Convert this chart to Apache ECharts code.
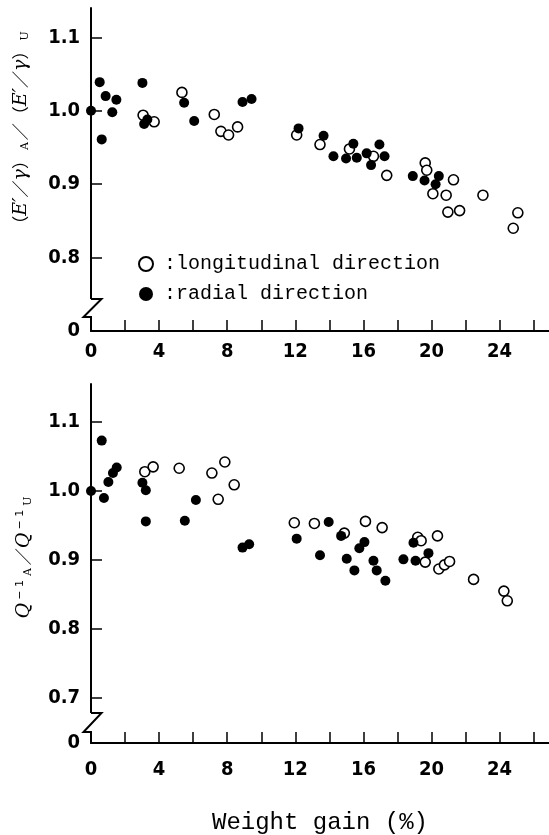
<!DOCTYPE html>
<html>
<head>
<meta charset="utf-8">
<script src="https://cdn.jsdelivr.net/npm/echarts@6/dist/echarts.min.js"></script>
<style>
  html, body { margin: 0; padding: 0; background: #fff; }
  #chart { width: 549px; height: 835px; }
</style>
</head>
<body>
<div id="chart"></div>
<script>
// weight gain (%) / ratio pairs
const topLongitudinal = [
  [3.06, 0.994], [3.71, 0.985], [5.34, 1.025], [7.24, 0.995], [7.63, 0.972], [8.08, 0.967], [8.61, 0.978],
  [12.08, 0.967], [13.45, 0.954], [15.18, 0.948], [16.59, 0.938], [17.37, 0.912], [19.63, 0.929],
  [19.72, 0.919], [20.08, 0.887], [20.86, 0.885], [20.96, 0.862], [21.29, 0.906], [21.65, 0.864],
  [23.02, 0.885], [24.8, 0.840], [25.07, 0.861]
]
const topRadial = [
  [0, 1.000], [0.51, 1.039], [0.63, 0.961], [0.86, 1.020], [1.25, 0.998], [1.49, 1.015],
  [3.02, 1.038], [3.12, 0.982], [3.31, 0.988], [5.47, 1.011], [6.06, 0.986], [8.9, 1.012], [9.43, 1.016],
  [12.19, 0.976], [13.66, 0.966], [14.24, 0.938], [14.98, 0.935], [15.41, 0.955], [15.61, 0.936],
  [16.19, 0.942], [16.45, 0.926], [16.94, 0.954], [17.24, 0.938], [18.9, 0.911], [19.59, 0.905],
  [20.24, 0.900], [20.43, 0.911]
]
const bottomLongitudinal = [
  [3.16, 1.028], [3.65, 1.035], [5.18, 1.033], [7.1, 1.026], [7.47, 0.988], [7.86, 1.042], [8.41, 1.009],
  [11.94, 0.954], [13.12, 0.953], [14.88, 0.939], [16.12, 0.956], [17.1, 0.947], [19.19, 0.933],
  [19.39, 0.928], [19.63, 0.897], [20.35, 0.935], [20.43, 0.887], [20.76, 0.893], [21.06, 0.898],
  [22.47, 0.872], [24.25, 0.855], [24.45, 0.841]
]
const bottomRadial = [
  [0, 1.000], [0.63, 1.073], [0.76, 0.990], [1.02, 1.013], [1.29, 1.026], [1.51, 1.034],
  [3.02, 1.012], [3.22, 1.001], [3.22, 0.956], [5.51, 0.957], [6.16, 0.987], [8.9, 0.918], [9.29, 0.923],
  [12.08, 0.931], [13.45, 0.907], [13.96, 0.955], [14.69, 0.935], [15.02, 0.902], [15.47, 0.885],
  [15.76, 0.917], [16.06, 0.926], [16.59, 0.899], [16.78, 0.885], [17.29, 0.870], [18.35, 0.901],
  [18.94, 0.925], [19.06, 0.899], [19.82, 0.910]
]

const xTicks = [2, 4, 6, 8, 10, 12, 14, 16, 18, 20, 22, 24, 26]
const xLabels = [0, 4, 8, 12, 16, 20, 24]
// lowest value of each y axis is drawn as "0" below the break
const topYRange = [0.7, 1.14]
const topYTicks = [0.8, 0.9, 1.0, 1.1]
const bottomYRange = [0.635, 1.155]
const bottomYTicks = [0.7, 0.8, 0.9, 1.0, 1.1]

const numFont = "'Liberation Sans Narrow', 'DejaVu Sans Condensed', 'Liberation Sans', sans-serif"
const monoFont = "'Liberation Mono', 'DejaVu Sans Mono', monospace"

const chart = echarts.init(document.getElementById('chart'))

function xAxis(grid, extra) {
  return Object.assign({
    gridIndex: grid,
    type: 'value',
    min: 0,
    max: 26.9,
    splitLine: { show: false },
    axisLine: { onZero: false, lineStyle: { color: '#000', width: 2 } },
    axisTick: { inside: true, length: 11, customValues: xTicks, lineStyle: { color: '#000', width: 1.5 } },
    axisLabel: {
      customValues: xLabels, margin: 11,
      color: '#000', fontFamily: numFont, fontWeight: 'bold', fontSize: 20
    }
  }, extra)
}

function yAxis(grid, range, ticks) {
  return {
    gridIndex: grid,
    type: 'value',
    min: range[0],
    max: range[1],
    splitLine: { show: false },
    axisLine: { onZero: false, lineStyle: { color: '#000', width: 2 } },
    axisTick: { inside: true, length: 11, customValues: ticks, lineStyle: { color: '#000', width: 1.5 } },
    axisLabel: {
      customValues: [range[0]].concat(ticks), margin: 11,
      color: '#000', fontFamily: numFont, fontWeight: 'bold', fontSize: 20,
      formatter: v => (v === range[0] ? '0' : v.toFixed(1))
    }
  }
}

const openStyle = { color: '#fff', borderColor: '#000', borderWidth: 1.6, opacity: 1 }
const filledStyle = { color: '#000', opacity: 1 }

function series(name, idx, data, style) {
  return {
    name, type: 'scatter', xAxisIndex: idx, yAxisIndex: idx,
    data, symbolSize: 10, itemStyle: style, silent: true
  }
}

// axis break: blank the axis line and draw the zigzag
function axisBreak(y0, y1, y2) {
  return [
    { type: 'rect', z: 100, shape: { x: 85, y: y0, width: 12, height: y2 - y0 - 1 }, style: { fill: '#fff' } },
    {
      type: 'polyline', z: 101,
      shape: { points: [[91, y0], [101.5, y0], [83.5, y1], [91, y1], [91, y2]] },
      style: { stroke: '#000', lineWidth: 2, fill: null }
    }
  ]
}

const option = {
  animation: false,
  backgroundColor: '#fff',
  grid: [
    { left: 91, right: 0, top: 8, height: 323, containLabel: false, outerBoundsMode: 'none' },
    { left: 91, right: 0, top: 384, height: 359, containLabel: false, outerBoundsMode: 'none' }
  ],
  xAxis: [
    xAxis(0),
    xAxis(1, {
      name: 'Weight gain (%)', nameLocation: 'middle', nameGap: 68,
      nameTextStyle: { color: '#000', fontFamily: monoFont, fontSize: 24 },
      axisLabel: {
        customValues: xLabels, margin: 17,
        color: '#000', fontFamily: numFont, fontWeight: 'bold', fontSize: 20
      }
    })
  ],
  yAxis: [
    yAxis(0, topYRange, topYTicks),
    yAxis(1, bottomYRange, bottomYTicks)
  ],
  legend: {
    orient: 'vertical', left: 133, top: 249,
    itemWidth: 14, itemHeight: 14, itemGap: 10,
    icon: 'circle',
    data: ['longitudinal direction', 'radial direction'],
    formatter: name => ':' + name,
    textStyle: { color: '#000', fontFamily: monoFont, fontSize: 20, padding: [0, 0, 0, 6] }
  },
  series: [
    series('longitudinal direction', 0, topLongitudinal, openStyle),
    series('radial direction', 0, topRadial, filledStyle),
    series('longitudinal direction', 1, bottomLongitudinal, openStyle),
    series('radial direction', 1, bottomRadial, filledStyle)
  ],
  graphic: [
    ...axisBreak(299, 317, 331),
    ...axisBreak(713, 732, 743),
    {
      type: 'text', x: 21, y: 131, rotation: Math.PI / 2,
      style: {
        text: '{p|（}{e|E′}{p|／}{e|γ}{p|）}{s|A}{p|／（}{e|E′}{p|／}{e|γ}{p|）}{s|U}',
        align: 'center', verticalAlign: 'middle', fill: '#000',
        rich: {
          p: { fontFamily: "'Noto Sans CJK JP'", fontSize: 17, fill: '#000' },
          e: { fontFamily: "'DejaVu Serif'", fontStyle: 'italic', fontSize: 19, fill: '#000' },
          s: { fontFamily: "'DejaVu Serif'", fontSize: 11, fill: '#000', verticalAlign: 'bottom', padding: [0, 2, 0, 2] }
        }
      }
    },
    {
      type: 'text', x: 24, y: 556, rotation: Math.PI / 2,
      style: {
        text: '{e|Q}{sup|− 1}{s|A}{p|／}{e|Q}{sup|− 1}{s|U}',
        align: 'center', verticalAlign: 'middle', fill: '#000',
        rich: {
          p: { fontFamily: "'Noto Sans CJK JP'", fontSize: 17, fill: '#000' },
          e: { fontFamily: "'DejaVu Serif'", fontStyle: 'italic', fontSize: 19, fill: '#000' },
          sup: { fontFamily: "'DejaVu Sans'", fontSize: 11, fill: '#000', verticalAlign: 'top', padding: [0, 3, 0, 3] },
          s: { fontFamily: "'DejaVu Serif'", fontSize: 11, fill: '#000', verticalAlign: 'bottom', padding: [0, 3, 0, 1] }
        }
      }
    }
  ]
}

chart.setOption(option)
</script>
</body>
</html>
